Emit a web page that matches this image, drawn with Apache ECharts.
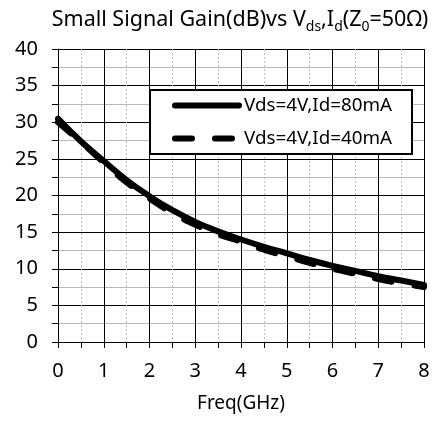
<!DOCTYPE html>
<html>
<head>
<meta charset="utf-8">
<script src="https://cdn.jsdelivr.net/npm/echarts@6/dist/echarts.min.js"></script>
<style>html,body{margin:0;padding:0;background:#fff;}#c{width:433px;height:421px;}</style>
</head>
<body>
<div id="c"></div>
<script>
var freq = [0, 0.5, 1, 1.5, 2, 2.5, 3, 3.5, 4, 4.5, 5, 5.5, 6, 6.5, 7, 7.5, 8];
var gain80 = [30.5, 27.4, 24.7, 22.1, 19.9, 18.0, 16.4, 15.1, 14.0, 13.0, 12.1, 11.2, 10.4, 9.7, 9.0, 8.4, 7.8];
var gain40 = [30.0, 27.3, 24.5, 21.8, 19.6, 17.6, 16.0, 14.7, 13.7, 12.6, 11.7, 10.8, 10.0, 9.3, 8.6, 8.0, 7.5];
var seriesNames = ['Vds=4V,Id=80mA', 'Vds=4V,Id=40mA'];
var xTicks = [0, 1, 2, 3, 4, 5, 6, 7, 8];
var yTicks = [0, 5, 10, 15, 20, 25, 30, 35, 40];

var FONT = 'Noto Sans';
function pairs(xs, ys) { return xs.map(function (x, i) { return [x, ys[i]]; }); }

var dashPattern = [17, 23];

var chart = echarts.init(document.getElementById('c'), null, { renderer: 'canvas' });
chart.setOption({
  animation: false,
  backgroundColor: '#ffffff',
  title: {
    text: '{m|Small Signal Gain(dB)vs V}{s|ds}{m|,I}{s|d}{m|(Z}{s|0}{m|=50Ω)}',
    left: 235, textAlign: 'center', top: 4,
    textStyle: {
      fontFamily: FONT, fontWeight: 'normal',
      rich: {
        m: { fontFamily: FONT, fontSize: 21.5, fontWeight: 'normal', color: '#000', verticalAlign: 'bottom' },
        s: { fontFamily: FONT, fontSize: 14, fontWeight: 'normal', color: '#000', verticalAlign: 'bottom', padding: [0, 0, -3, 0] }
      }
    }
  },
  legend: {
    orient: 'vertical',
    left: 150, top: 90,
    padding: [6, 20, 6, 22],
    borderColor: '#000', borderWidth: 2,
    backgroundColor: '#fff',
    itemWidth: 64, itemHeight: 18, itemGap: 14, itemTextGap: 10,
    itemStyle: { opacity: 0 },
    textStyle: { fontFamily: FONT, fontSize: 18.8, color: '#000' },
    data: [
      { name: seriesNames[0], lineStyle: { width: 6, type: 'solid', cap: 'round', color: '#000' } },
      { name: seriesNames[1], lineStyle: { width: 6, type: dashPattern, cap: 'round', color: '#000' } }
    ]
  },
  grid: { left: 58, right: 9, top: 49, bottom: 79, containLabel: false },
  xAxis: {
    type: 'value', min: 0, max: 8, interval: 1,
    name: 'Freq(GHz)', nameLocation: 'middle', nameGap: 52,
    nameTextStyle: { fontFamily: FONT, fontSize: 19, color: '#000' },
    axisLine: { show: true, onZero: false, lineStyle: { color: '#000', width: 1 } },
    axisTick: { show: true, inside: false, length: 6, lineStyle: { color: '#000' } },
    minorTick: { show: true, splitNumber: 2, length: 6, lineStyle: { color: '#000' } },
    axisLabel: { fontFamily: FONT, fontSize: 20, color: '#000', margin: 19,
      formatter: function (v) { return xTicks.indexOf(v) >= 0 ? String(v) : ''; } },
    splitLine: { show: true, lineStyle: { color: '#000', width: 1 } },
    minorSplitLine: { show: true, lineStyle: { color: '#c0c0c0', width: 1, type: [2, 2] } }
  },
  yAxis: {
    type: 'value', min: 0, max: 40, interval: 5,
    axisLine: { show: true, onZero: false, lineStyle: { color: '#000', width: 1 } },
    axisTick: { show: true, inside: false, length: 6, lineStyle: { color: '#000' } },
    minorTick: { show: true, splitNumber: 2, length: 6, lineStyle: { color: '#000' } },
    axisLabel: { fontFamily: FONT, fontSize: 20, color: '#000', margin: 20,
      formatter: function (v) { return yTicks.indexOf(v) >= 0 ? String(v) : ''; } },
    splitLine: { show: true, lineStyle: { color: '#000', width: 1 } },
    minorSplitLine: { show: true, lineStyle: { color: '#b8b8b8', width: 1 } }
  },
  series: [
    {
      name: seriesNames[1], type: 'line', smooth: true, symbol: 'none', z: 3,
      data: pairs(freq, gain40),
      lineStyle: { color: '#000', width: 6, type: dashPattern, cap: 'round' },
      itemStyle: { color: '#000' }
    },
    {
      name: seriesNames[0], type: 'line', smooth: true, symbol: 'none', z: 4,
      data: pairs(freq, gain80),
      lineStyle: { color: '#000', width: 6, type: 'solid', cap: 'round' },
      itemStyle: { color: '#000' }
    }
  ]
});
</script>
</body>
</html>
